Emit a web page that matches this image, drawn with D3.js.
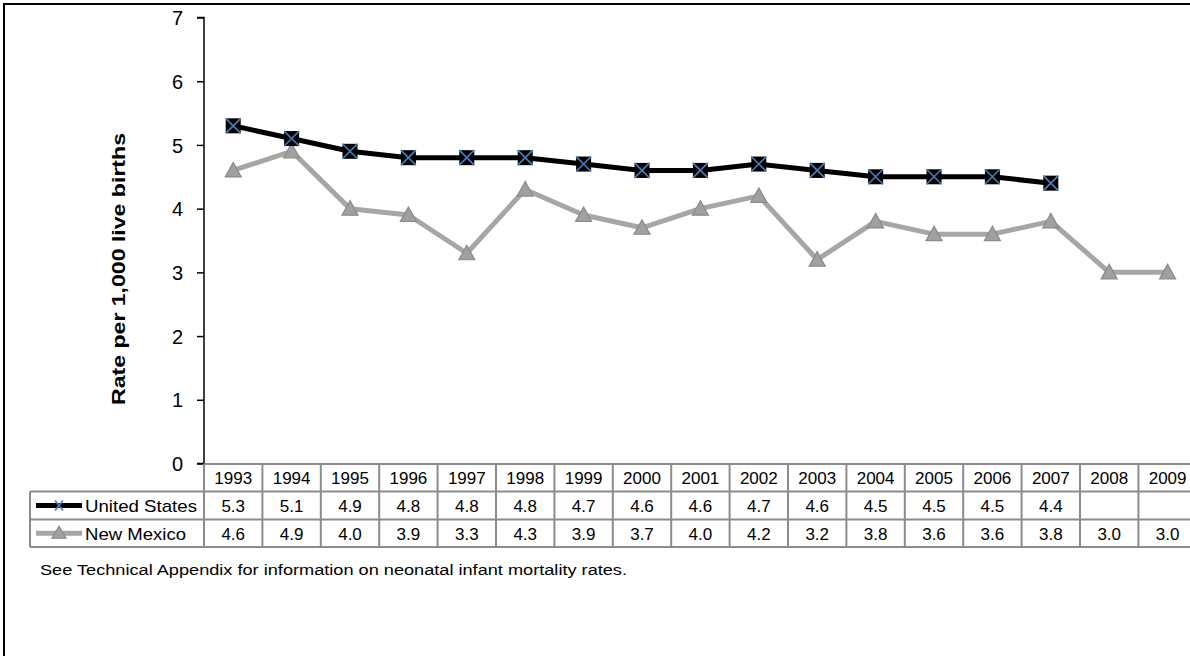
<!DOCTYPE html>
<html><head><meta charset="utf-8">
<script src="https://cdn.jsdelivr.net/npm/d3@7"></script>
<style>body{margin:0;background:#fff;overflow:hidden}svg{display:block;font-family:"Liberation Sans",Arial,sans-serif}</style>
</head><body>
<svg id="c" width="1190" height="656"></svg>
<script>
const years = ["1993","1994","1995","1996","1997","1998","1999","2000","2001","2002","2003","2004","2005","2006","2007","2008","2009"];
const usValues = [5.3,5.1,4.9,4.8,4.8,4.8,4.7,4.6,4.6,4.7,4.6,4.5,4.5,4.5,4.4,null,null];
const nmValues = [4.6,4.9,4.0,3.9,3.3,4.3,3.9,3.7,4.0,4.2,3.2,3.8,3.6,3.6,3.8,3.0,3.0];
const seriesNames = ["United States","New Mexico"];
const yTicks = [0,1,2,3,4,5,6,7];
const yLabel = "Rate per 1,000 live births";
const footnote = "See Technical  Appendix for information on neonatal infant mortality rates.";

(function(){
const svg = d3.select("#c");
const pLeft = 204, colW = 58.4, pTop = 17.5, pBottom = 463.5;
const x = d3.scaleBand().domain(years).range([pLeft, pLeft + colW * years.length]);
const y = d3.scaleLinear().domain([0,7]).range([pBottom, pTop]);

// outer frame
svg.append("rect").attr("x",4).attr("y",4).attr("width",1300).attr("height",800)
  .attr("fill","none").attr("stroke","#000").attr("stroke-width",2);

// y axis
const yAxis = d3.axisLeft(y).tickValues(yTicks).tickSize(7).tickPadding(14).tickFormat(d3.format("d"));
const ga = svg.append("g").attr("transform",`translate(${pLeft},0)`).call(yAxis);
ga.select(".domain").attr("stroke","#000").attr("stroke-width",1.5).attr("d",`M-7,${pTop}H0V${pBottom}H-7`);
ga.selectAll(".tick line").attr("stroke","#000").attr("stroke-width",1.5);
ga.selectAll(".tick text").attr("font-size",20).attr("fill","#000").attr("font-family","Liberation Sans, Arial, sans-serif").attr("dy","0.36em");

svg.append("text").attr("transform",`translate(125,269) rotate(-90)`)
  .attr("text-anchor","middle").attr("font-size",18).attr("font-weight","bold")
  .attr("textLength",272).attr("lengthAdjust","spacingAndGlyphs").text(yLabel);

// table
const rowTop = [464, 491.5, 519.5, 547];
const tbl = svg.append("g");
const gridColor = "#8c8c8c";
const tableRight = x.range()[1];
tbl.append("line").attr("x1",pLeft).attr("x2",tableRight).attr("y1",rowTop[0]).attr("y2",rowTop[0]).attr("stroke",gridColor).attr("stroke-width",2);
[1,2,3].forEach(i=>tbl.append("line").attr("x1",30).attr("x2",tableRight).attr("y1",rowTop[i]).attr("y2",rowTop[i]).attr("stroke",gridColor).attr("stroke-width",2));
tbl.append("line").attr("x1",30).attr("x2",30).attr("y1",rowTop[1]).attr("y2",rowTop[3]).attr("stroke",gridColor).attr("stroke-width",2);
years.forEach((yr)=>{
  const xv = x(yr);
  tbl.append("line").attr("x1",xv).attr("x2",xv).attr("y1",rowTop[0]).attr("y2",rowTop[3]).attr("stroke",gridColor).attr("stroke-width",2);
});
tbl.append("line").attr("x1",tableRight).attr("x2",tableRight).attr("y1",rowTop[0]).attr("y2",rowTop[3]).attr("stroke",gridColor).attr("stroke-width",2);

const cellText = (txt, cx, rowIdx) => tbl.append("text").attr("x",cx).attr("y",(rowTop[rowIdx]+rowTop[rowIdx+1])/2 + 6.5)
  .attr("text-anchor","middle").attr("font-size",17).attr("fill","#000").text(txt);
years.forEach((yr,i)=>{
  const cx = x(yr) + x.bandwidth()/2;
  cellText(yr, cx, 0);
  if (usValues[i] != null) cellText(usValues[i].toFixed(1), cx, 1);
  if (nmValues[i] != null) cellText(nmValues[i].toFixed(1), cx, 2);
});

const usLine = "#000", nmLine = "#a6a6a6";
function usMarker(g, cx, cy){
  const s = 7.5;
  g.append("rect").attr("x",cx-s).attr("y",cy-s).attr("width",2*s).attr("height",2*s).attr("fill","#000");
  g.append("path").attr("d",`M${cx-s},${cy-s}L${cx+s},${cy+s}M${cx+s},${cy-s}L${cx-s},${cy+s}`)
    .attr("stroke","#4a7ebb").attr("stroke-width",1.6);
}
function nmMarker(g, cx, cy){
  g.append("path").attr("d",`M${cx},${cy-8}L${cx+8},${cy+6.5}L${cx-8},${cy+6.5}Z`)
    .attr("fill","#a0a0a0").attr("stroke","#8a8a8a").attr("stroke-width",1.2);
}

// legend in table
const lg = svg.append("g");
const legendLens = [112, 101];
[[usLine,1],[nmLine,2]].forEach(([col,ri],k)=>{
  const cy = (rowTop[ri]+rowTop[ri+1])/2;
  lg.append("line").attr("x1",36).attr("x2",82).attr("y1",cy).attr("y2",cy).attr("stroke",col).attr("stroke-width",5);
  if (k===0){
    lg.append("path").attr("d",`M55,${cy-5}L63,${cy+5}M63,${cy-5}L55,${cy+5}`).attr("stroke","#4a7ebb").attr("stroke-width",1.6);
  } else {
    lg.append("path").attr("d",`M59,${cy-7}L66,${cy+5}L52,${cy+5}Z`).attr("fill","#a0a0a0").attr("stroke","#8a8a8a").attr("stroke-width",1.2);
  }
  lg.append("text").attr("x",85).attr("y",cy+6.5).attr("font-size",17).attr("fill","#000")
    .attr("textLength",legendLens[k]).attr("lengthAdjust","spacingAndGlyphs").text(seriesNames[k]);
});

// lines
const cxOf = (i) => x(years[i]) + x.bandwidth()/2;
const lineGen = d3.line().defined(d=>d[1]!=null).x(d=>cxOf(d[0])).y(d=>y(d[1]));
const plot = svg.append("g");
plot.append("path").datum(nmValues.map((v,i)=>[i,v])).attr("d",lineGen).attr("fill","none").attr("stroke",nmLine).attr("stroke-width",5).attr("stroke-linejoin","round");
plot.append("path").datum(usValues.map((v,i)=>[i,v])).attr("d",lineGen).attr("fill","none").attr("stroke",usLine).attr("stroke-width",5).attr("stroke-linejoin","round");
nmValues.forEach((v,i)=>{ if(v!=null) nmMarker(plot, cxOf(i), y(v)); });
usValues.forEach((v,i)=>{ if(v!=null) usMarker(plot, cxOf(i), y(v)); });

// footnote
svg.append("text").attr("x",40).attr("y",575).attr("font-size",14).attr("fill","#000")
  .attr("textLength",587).attr("lengthAdjust","spacingAndGlyphs").text(footnote);
})();
</script>
</body></html>
